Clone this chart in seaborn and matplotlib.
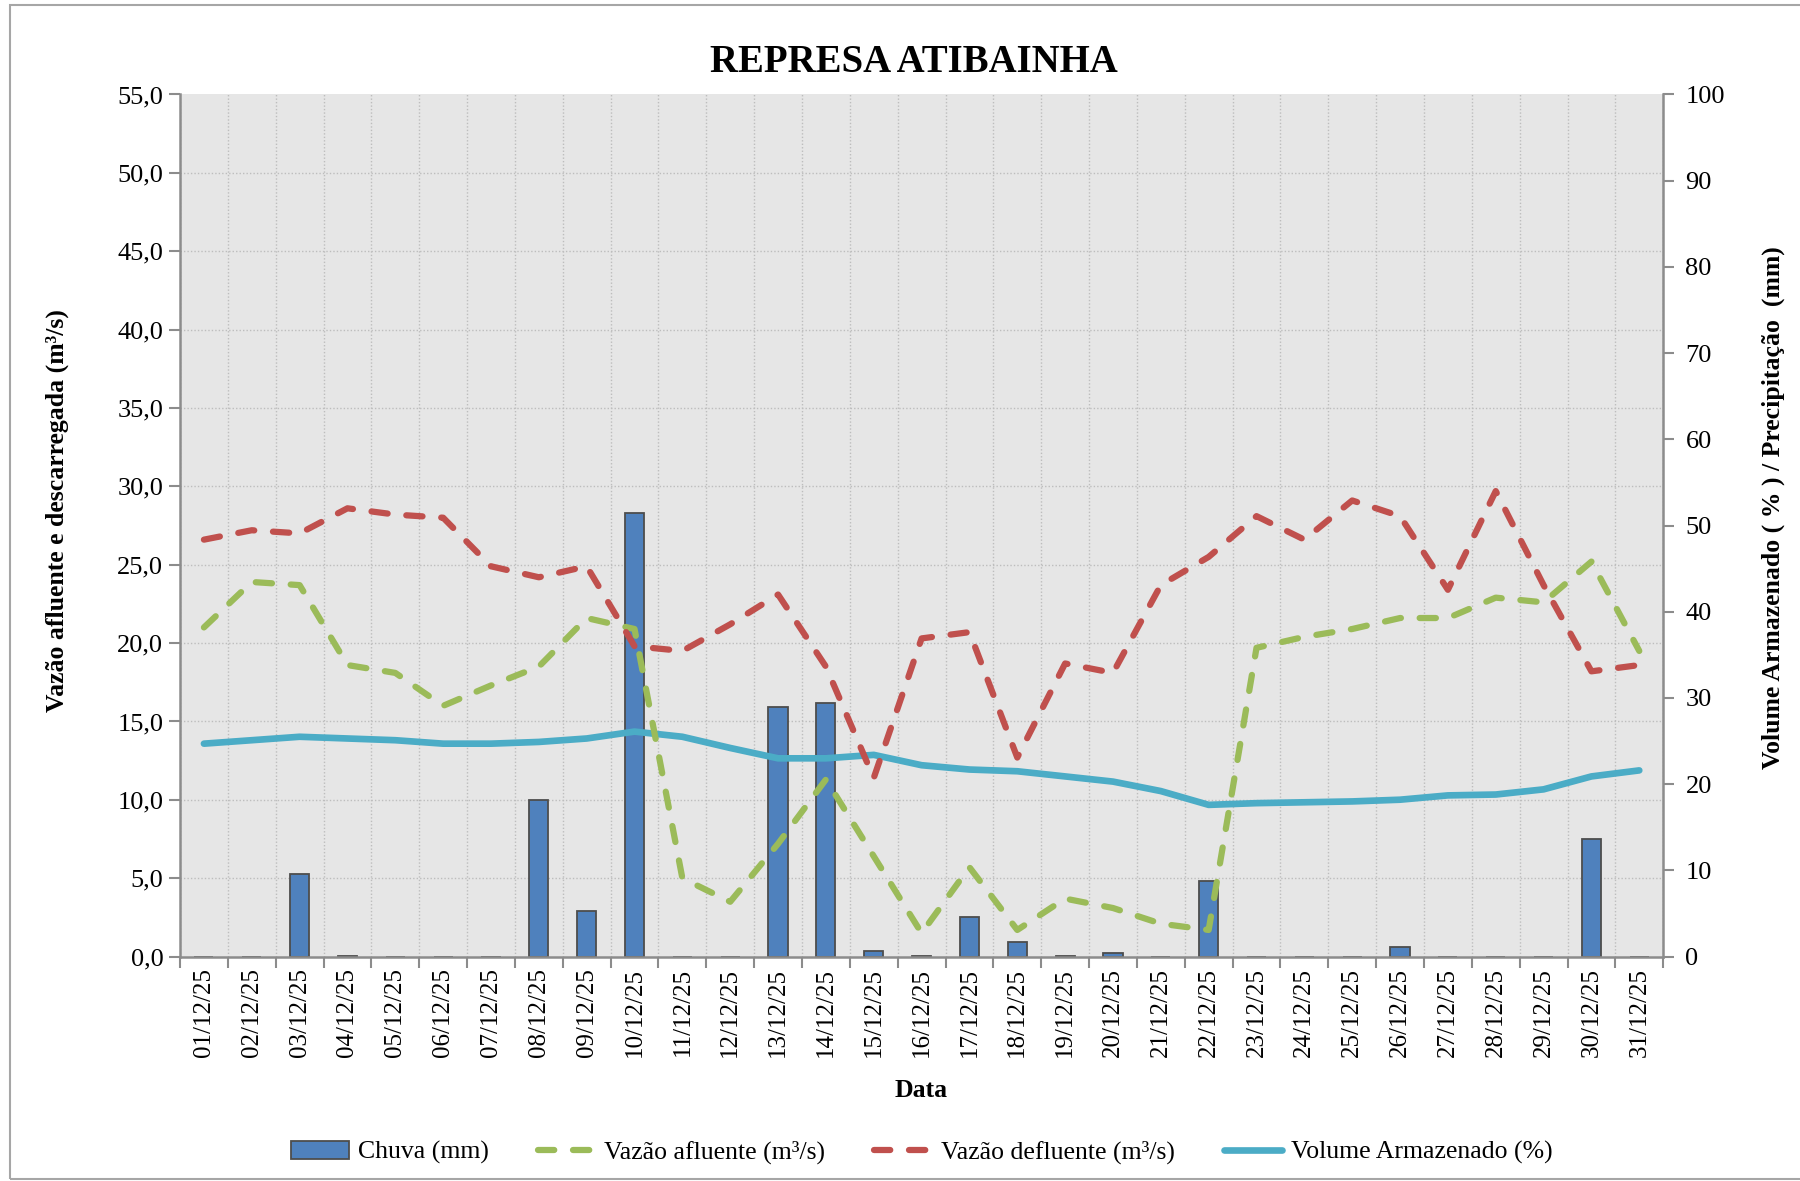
import numpy as np
import matplotlib
matplotlib.use("Agg")
import matplotlib.pyplot as plt
import matplotlib.ticker as mticker
from matplotlib.lines import Line2D
from matplotlib.patches import Patch, Rectangle
import seaborn as sns

# Data
dates = ["01/12/25", "02/12/25", "03/12/25", "04/12/25", "05/12/25", "06/12/25",
         "07/12/25", "08/12/25", "09/12/25", "10/12/25", "11/12/25", "12/12/25",
         "13/12/25", "14/12/25", "15/12/25", "16/12/25", "17/12/25", "18/12/25",
         "19/12/25", "20/12/25", "21/12/25", "22/12/25", "23/12/25", "24/12/25",
         "25/12/25", "26/12/25", "27/12/25", "28/12/25", "29/12/25", "30/12/25",
         "31/12/25"]
chuva = [0, 0, 9.6, 0.1, 0, 0, 0, 18.2, 5.3, 51.4, 0, 0, 29.0, 29.4, 0.6, 0.1,
         4.6, 1.7, 0.1, 0.4, 0, 8.8, 0, 0, 0, 1.1, 0, 0, 0, 13.6, 0]
afluente = [21.0, 23.9, 23.7, 18.6, 18.1, 16.0, 17.3, 18.5, 21.6, 20.9, 5.0,
            3.5, 7.2, 11.3, 6.4, 1.5, 5.7, 1.7, 3.7, 3.1, 2.1, 1.7, 19.7, 20.4,
            20.9, 21.6, 21.6, 22.9, 22.6, 25.2, 19.5]
defluente = [26.6, 27.2, 27.0, 28.6, 28.2, 28.0, 24.9, 24.2, 24.9, 19.8, 19.5,
             21.2, 23.1, 18.5, 11.4, 20.3, 20.7, 12.7, 18.7, 18.1, 23.7, 25.5,
             28.1, 26.6, 29.1, 28.1, 23.4, 29.7, 23.7, 18.2, 18.6]
volume = [24.7, 25.1, 25.5, 25.3, 25.1, 24.7, 24.7, 24.9, 25.3, 26.1, 25.5,
          24.2, 23.0, 23.0, 23.4, 22.2, 21.7, 21.5, 20.9, 20.3, 19.2, 17.6,
          17.8, 17.9, 18.0, 18.2, 18.7, 18.8, 19.4, 20.9, 21.6]

c_bar = "#4F81BD"
c_afl = "#9BBB59"
c_def = "#C0504D"
c_vol = "#4BACC6"
c_axis = "#8C8C8C"
c_grid = "#BDBDBD"
dash = (0, (2.6, 3.0))
lw_dash = 4.5

sns.set_style("white")
plt.rcParams["font.family"] = ["Liberation Serif", "DejaVu Serif"]
plt.rcParams["text.color"] = "black"
plt.rcParams["axes.labelcolor"] = "black"

fig = plt.figure(figsize=(18, 11.81), dpi=100)
ax = fig.add_axes([0.1, 0.19, 0.824, 0.73])
ax2 = ax.twinx()

# left axis (lines) drawn above right axis (bars)
ax.set_zorder(2)
ax2.set_zorder(1)
ax.patch.set_visible(False)
ax2.patch.set_visible(True)
ax2.patch.set_facecolor("#E6E6E6")

xpos = np.arange(len(dates))

# right axis: rain bars + stored volume
sns.barplot(x=dates, y=chuva, ax=ax2, color=c_bar, saturation=1, width=0.4,
            edgecolor="#4D4D4D", linewidth=1.3)
sns.lineplot(x=xpos, y=volume, ax=ax2, color=c_vol, linewidth=4.8,
             solid_capstyle="round", solid_joinstyle="round")

# left axis: inflow / outflow
sns.lineplot(x=xpos, y=afluente, ax=ax, color=c_afl, linewidth=lw_dash,
             linestyle=dash, dash_capstyle="round", dash_joinstyle="round")
sns.lineplot(x=xpos, y=defluente, ax=ax, color=c_def, linewidth=lw_dash,
             linestyle=dash, dash_capstyle="round", dash_joinstyle="round")

ax.set_xlim(-0.5, len(dates) - 0.5)
ax.set_ylim(0, 55)
ax2.set_ylim(0, 100)

ax.set_yticks(np.arange(0, 56, 5))
ax.yaxis.set_major_formatter(mticker.FuncFormatter(lambda v, p: f"{v:.1f}".replace(".", ",")))
ax2.set_yticks(np.arange(0, 101, 10))

ax.set_xticks(xpos)
ax.set_xticklabels(dates, rotation=90)
ax.set_xticks(np.arange(-0.5, len(dates), 1), minor=True)

# gridlines live on the back axis so bars cover them
ax2.xaxis.set_visible(True)
ax2.yaxis.set_minor_locator(mticker.FixedLocator(np.arange(0, 56, 5) * 100 / 55))
ax2.grid(which="minor", axis="both", color=c_grid, linestyle=(0, (1, 1.5)), linewidth=1)
ax2.grid(which="major", axis="both", visible=False)
ax.grid(False)
ax2.tick_params(axis="x", which="both", bottom=False, top=False, labelbottom=False)
ax2.tick_params(axis="y", which="minor", right=False, left=False)

ax.tick_params(axis="y", which="major", left=True, direction="out", length=8,
               width=1.5, color=c_axis, labelcolor="black", labelsize=19, pad=4)
ax.tick_params(axis="x", which="major", bottom=True, length=0, labelsize=18,
               labelcolor="black", pad=8)
ax.tick_params(axis="x", which="minor", bottom=True, direction="out", length=8,
               width=1.5, color=c_axis)
ax2.tick_params(axis="y", which="major", right=True, direction="out", length=8,
                width=1.5, color=c_axis, labelcolor="black", labelsize=19, pad=8)

for s in ["top", "right"]:
    ax.spines[s].set_visible(False)
for s in ["left", "bottom"]:
    ax.spines[s].set_color(c_axis)
    ax.spines[s].set_linewidth(1.8)
for s in ["top", "left", "bottom"]:
    ax2.spines[s].set_visible(False)
ax2.spines["right"].set_color(c_axis)
ax2.spines["right"].set_linewidth(1.8)

ax.set_title("REPRESA ATIBAINHA", fontsize=28, fontweight="bold", pad=16.5, x=0.495)
ax.set_xlabel("Data", fontsize=18.5, fontweight="bold", labelpad=16)
ax.set_ylabel("Vazão afluente e descarregada (m³/s)", fontsize=18.5, fontweight="bold")
ax.yaxis.set_label_coords(-0.075, 0.517)
ax2.set_ylabel("Volume Armazenado ( % ) / Precipitação  (mm)", fontsize=18.5,
               fontweight="bold", rotation=90)
ax2.yaxis.set_label_coords(1.066, 0.521)

handles = [
    Patch(facecolor=c_bar, edgecolor="#4D4D4D", linewidth=1.3),
    Line2D([], [], color=c_afl, linewidth=lw_dash, linestyle=dash, dash_capstyle="round"),
    Line2D([], [], color=c_def, linewidth=lw_dash, linestyle=dash, dash_capstyle="round"),
    Line2D([], [], color=c_vol, linewidth=4.8, solid_capstyle="round"),
]
labels = ["Chuva (mm)", "Vazão afluente (m³/s)", "Vazão defluente (m³/s)",
          "Volume Armazenado (%)"]
fig.legend(handles, labels, loc="center", bbox_to_anchor=(0.512, 0.024), ncol=4,
           frameon=False, fontsize=18.5, handlelength=2.25, handletextpad=0.35,
           columnspacing=1.9)

# chart-area border
fig.add_artist(Rectangle((0.0056, 0.0017), 1.2, 0.994, transform=fig.transFigure,
                         fill=False, edgecolor="#A6A6A6", linewidth=1.5))

fig.savefig("out.png", dpi=100)
